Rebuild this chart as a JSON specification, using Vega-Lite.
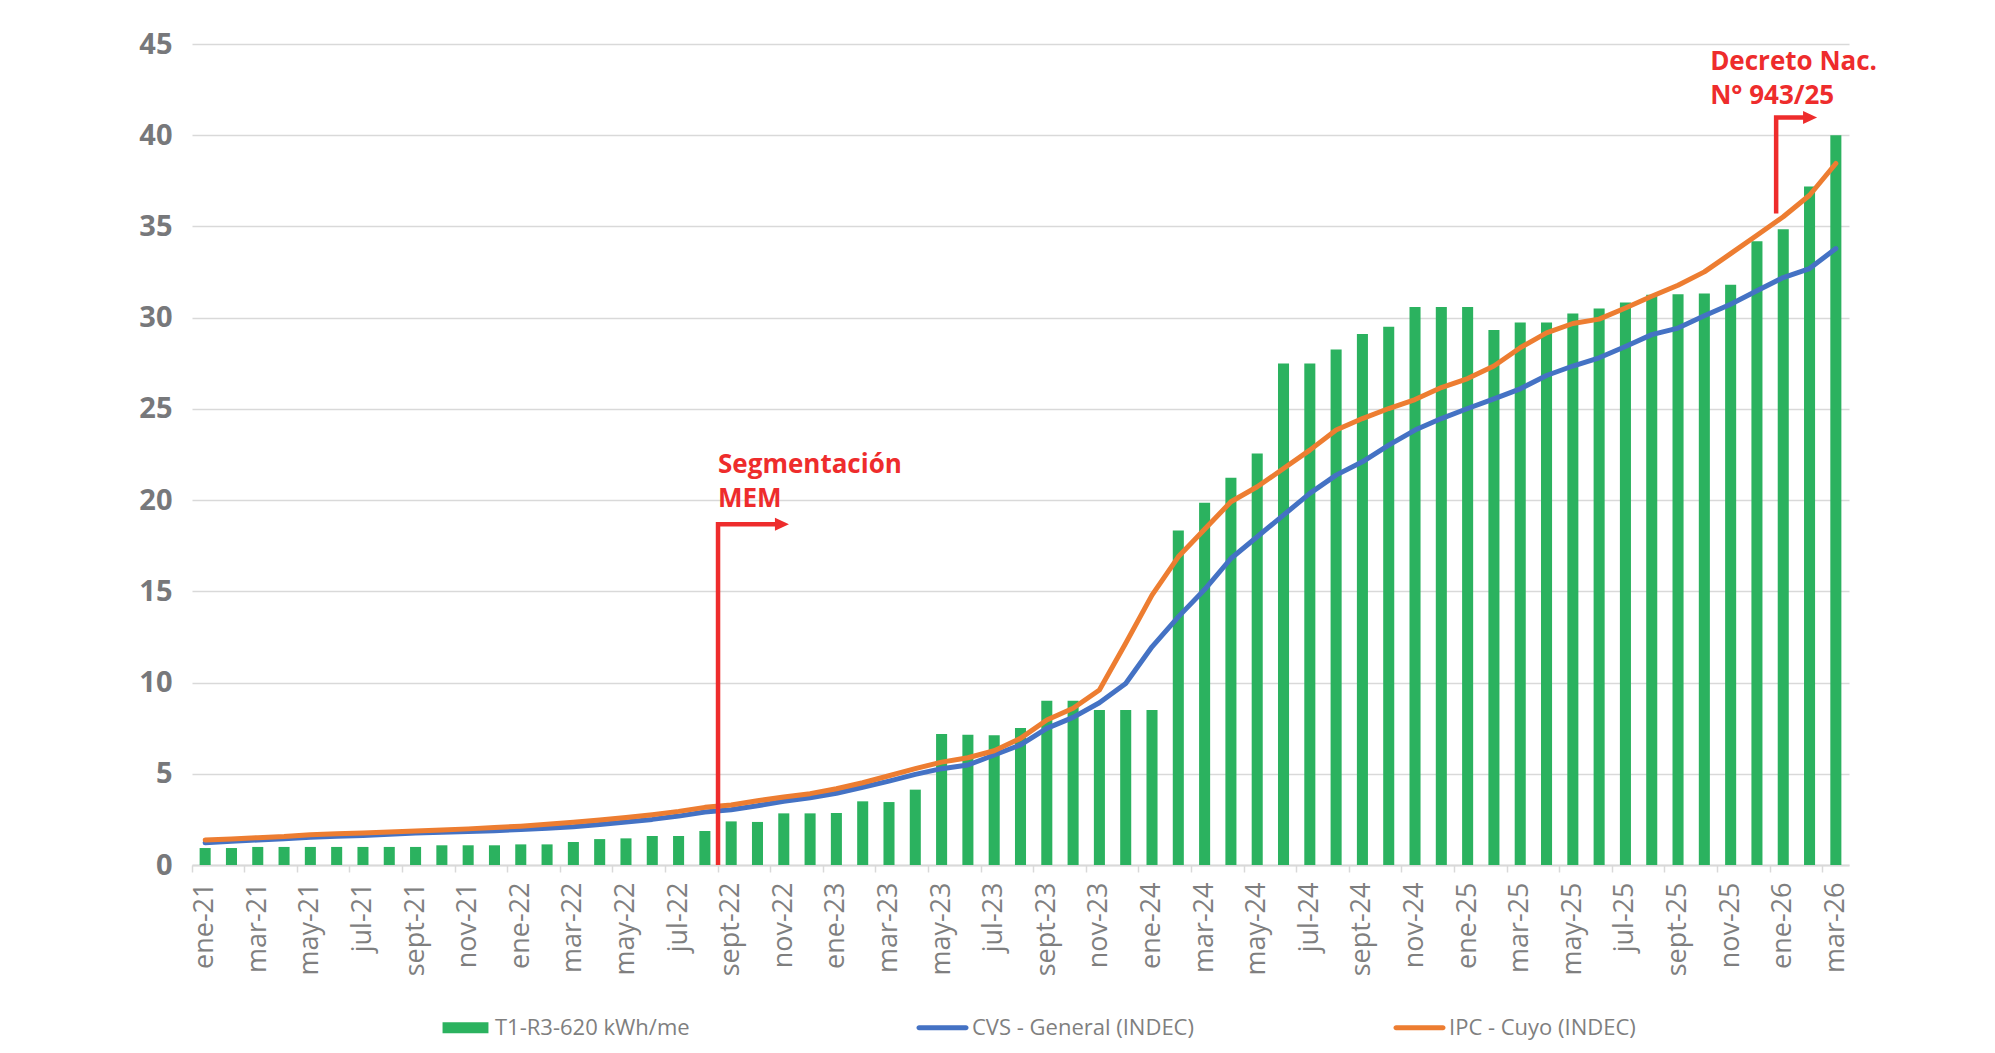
{
  "$schema": "https://vega.github.io/schema/vega-lite/v6.json",
  "width": 1657,
  "height": 821,
  "autosize": {"type": "none"},
  "padding": {"left": 192, "top": 44, "right": 146, "bottom": 188},
  "background": "white",
  "config": {"view": {"stroke": null}, "font": "Open Sans"},
  "datasets": {
    "main": [
      {"m": "ene-21", "t1": 0.93, "cvs": 1.22, "ipc": 1.37},
      {"m": "feb-21", "t1": 0.93, "cvs": 1.30, "ipc": 1.43},
      {"m": "mar-21", "t1": 0.99, "cvs": 1.37, "ipc": 1.50},
      {"m": "abr-21", "t1": 0.99, "cvs": 1.44, "ipc": 1.56},
      {"m": "may-21", "t1": 0.99, "cvs": 1.52, "ipc": 1.66},
      {"m": "jun-21", "t1": 0.99, "cvs": 1.57, "ipc": 1.71},
      {"m": "jul-21", "t1": 0.99, "cvs": 1.62, "ipc": 1.76},
      {"m": "ago-21", "t1": 0.99, "cvs": 1.68, "ipc": 1.81},
      {"m": "sept-21", "t1": 0.99, "cvs": 1.75, "ipc": 1.87},
      {"m": "oct-21", "t1": 1.08, "cvs": 1.80, "ipc": 1.92},
      {"m": "nov-21", "t1": 1.08, "cvs": 1.84, "ipc": 1.98},
      {"m": "dic-21", "t1": 1.08, "cvs": 1.88, "ipc": 2.05},
      {"m": "ene-22", "t1": 1.13, "cvs": 1.95, "ipc": 2.13},
      {"m": "feb-22", "t1": 1.13, "cvs": 2.02, "ipc": 2.23},
      {"m": "mar-22", "t1": 1.26, "cvs": 2.10, "ipc": 2.34},
      {"m": "abr-22", "t1": 1.42, "cvs": 2.22, "ipc": 2.47},
      {"m": "may-22", "t1": 1.46, "cvs": 2.36, "ipc": 2.60},
      {"m": "jun-22", "t1": 1.59, "cvs": 2.50, "ipc": 2.76},
      {"m": "jul-22", "t1": 1.59, "cvs": 2.68, "ipc": 2.94},
      {"m": "ago-22", "t1": 1.86, "cvs": 2.90, "ipc": 3.16},
      {"m": "sept-22", "t1": 2.39, "cvs": 3.03, "ipc": 3.29},
      {"m": "oct-22", "t1": 2.36, "cvs": 3.25, "ipc": 3.52},
      {"m": "nov-22", "t1": 2.83, "cvs": 3.49, "ipc": 3.73},
      {"m": "dic-22", "t1": 2.83, "cvs": 3.69, "ipc": 3.91},
      {"m": "ene-23", "t1": 2.85, "cvs": 3.93, "ipc": 4.18},
      {"m": "feb-23", "t1": 3.49, "cvs": 4.26, "ipc": 4.51},
      {"m": "mar-23", "t1": 3.45, "cvs": 4.60, "ipc": 4.89},
      {"m": "abr-23", "t1": 4.13, "cvs": 4.97, "ipc": 5.28},
      {"m": "may-23", "t1": 7.18, "cvs": 5.28, "ipc": 5.64},
      {"m": "jun-23", "t1": 7.14, "cvs": 5.48, "ipc": 5.88},
      {"m": "jul-23", "t1": 7.11, "cvs": 6.03, "ipc": 6.26},
      {"m": "ago-23", "t1": 7.51, "cvs": 6.58, "ipc": 6.94},
      {"m": "sept-23", "t1": 9.00, "cvs": 7.49, "ipc": 7.95},
      {"m": "oct-23", "t1": 9.00, "cvs": 8.09, "ipc": 8.59},
      {"m": "nov-23", "t1": 8.49, "cvs": 8.89, "ipc": 9.59},
      {"m": "dic-23", "t1": 8.49, "cvs": 9.95, "ipc": 12.15},
      {"m": "ene-24", "t1": 8.49, "cvs": 11.96, "ipc": 14.79},
      {"m": "feb-24", "t1": 18.34, "cvs": 13.60, "ipc": 16.89},
      {"m": "mar-24", "t1": 19.85, "cvs": 15.10, "ipc": 18.40},
      {"m": "abr-24", "t1": 21.22, "cvs": 16.80, "ipc": 19.91},
      {"m": "may-24", "t1": 22.55, "cvs": 17.99, "ipc": 20.73},
      {"m": "jun-24", "t1": 27.49, "cvs": 19.18, "ipc": 21.73},
      {"m": "jul-24", "t1": 27.49, "cvs": 20.37, "ipc": 22.74},
      {"m": "ago-24", "t1": 28.26, "cvs": 21.37, "ipc": 23.84},
      {"m": "sept-24", "t1": 29.10, "cvs": 22.10, "ipc": 24.47},
      {"m": "oct-24", "t1": 29.50, "cvs": 23.01, "ipc": 25.02},
      {"m": "nov-24", "t1": 30.59, "cvs": 23.84, "ipc": 25.51},
      {"m": "dic-24", "t1": 30.59, "cvs": 24.47, "ipc": 26.17},
      {"m": "ene-25", "t1": 30.59, "cvs": 25.02, "ipc": 26.66},
      {"m": "feb-25", "t1": 29.32, "cvs": 25.55, "ipc": 27.35},
      {"m": "mar-25", "t1": 29.73, "cvs": 26.10, "ipc": 28.35},
      {"m": "abr-25", "t1": 29.73, "cvs": 26.83, "ipc": 29.17},
      {"m": "may-25", "t1": 30.23, "cvs": 27.35, "ipc": 29.68},
      {"m": "jun-25", "t1": 30.50, "cvs": 27.80, "ipc": 29.92},
      {"m": "jul-25", "t1": 30.83, "cvs": 28.42, "ipc": 30.53},
      {"m": "ago-25", "t1": 31.25, "cvs": 29.07, "ipc": 31.17},
      {"m": "sept-25", "t1": 31.28, "cvs": 29.43, "ipc": 31.78},
      {"m": "oct-25", "t1": 31.32, "cvs": 30.10, "ipc": 32.51},
      {"m": "nov-25", "t1": 31.81, "cvs": 30.74, "ipc": 33.51},
      {"m": "dic-25", "t1": 34.19, "cvs": 31.47, "ipc": 34.52},
      {"m": "ene-26", "t1": 34.85, "cvs": 32.20, "ipc": 35.53},
      {"m": "feb-26", "t1": 37.19, "cvs": 32.69, "ipc": 36.71},
      {"m": "mar-26", "t1": 40.00, "cvs": 33.79, "ipc": 38.45}
    ],
    "series": [
      {"serie": "T1-R3-620 kWh/me"},
      {"serie": "CVS - General (INDEC)"},
      {"serie": "IPC - Cuyo (INDEC)"}
    ],
    "arrows": [
      {"a": "seg", "o": 1, "x": 20.0, "y": 0},
      {"a": "seg", "o": 2, "x": 20.0, "y": 18.68},
      {"a": "seg", "o": 3, "x": 22.3, "y": 18.68},
      {"a": "dec", "o": 1, "x": 60.23, "y": 35.71},
      {"a": "dec", "o": 2, "x": 60.23, "y": 40.97},
      {"a": "dec", "o": 3, "x": 61.4, "y": 40.97}
    ],
    "heads": [
      {"x": 22.43, "y": 18.68},
      {"x": 61.52, "y": 40.97}
    ],
    "notes": [
      {"x": 20.0, "y": 21.47, "t": "Segmentación"},
      {"x": 20.0, "y": 19.6, "t": "MEM"},
      {"x": 57.72, "y": 43.55, "t": "Decreto Nac."},
      {"x": 57.72, "y": 41.7, "t": "N° 943/25"}
    ]
  },
  "layer": [
    {
      "data": {"name": "main"},
      "layer": [
        {
          "mark": {"type": "bar", "color": "#2bb25f", "width": {"band": 0.42}},
          "encoding": {
            "x": {
              "field": "m", "type": "nominal", "sort": null, "title": null,
              "scale": {"type": "band", "paddingInner": 0, "paddingOuter": 0},
              "axis": {
                "values": ["ene-21","mar-21","may-21","jul-21","sept-21","nov-21","ene-22","mar-22","may-22","jul-22","sept-22","nov-22","ene-23","mar-23","may-23","jul-23","sept-23","nov-23","ene-24","mar-24","may-24","jul-24","sept-24","nov-24","ene-25","mar-25","may-25","jul-25","sept-25","nov-25","ene-26","mar-26"],
                "bandPosition": 0,
                "labelOffset": 0,
                "labelAngle": -90,
                "labelFont": "Open Sans",
                "labelFontSize": 27,
                "labelColor": "#7f7f7f",
                "labelPadding": 10,
                "labelOverlap": false,
                "tickColor": "#d9d9d9",
                "tickSize": 7,
                "tickWidth": 1.5,
                "domainColor": "#d9d9d9",
                "domainWidth": 2,
                "grid": false
              }
            },
            "y": {
              "field": "t1", "type": "quantitative", "title": null,
              "scale": {"domain": [0, 45], "nice": false},
              "axis": {
                "values": [0, 5, 10, 15, 20, 25, 30, 35, 40, 45],
                "grid": true,
                "gridColor": "#d9d9d9",
                "gridWidth": 1.5,
                "domain": false,
                "ticks": false,
                "labelFont": "Open Sans",
                "labelFontSize": 29,
                "labelFontWeight": "bold",
                "labelColor": "#77787b",
                "labelPadding": 20
              }
            }
          }
        },
        {
          "mark": {"type": "line", "color": "#4472c4", "strokeWidth": 5, "strokeCap": "round", "strokeJoin": "round"},
          "encoding": {
            "x": {"field": "m", "type": "nominal", "sort": null, "title": null},
            "y": {"field": "cvs", "type": "quantitative", "title": null}
          }
        },
        {
          "mark": {"type": "line", "color": "#ed7d31", "strokeWidth": 5, "strokeCap": "round", "strokeJoin": "round"},
          "encoding": {
            "x": {"field": "m", "type": "nominal", "sort": null, "title": null},
            "y": {"field": "ipc", "type": "quantitative", "title": null}
          }
        }
      ]
    },
    {
      "layer": [
        {
          "data": {"name": "series"},
          "mark": {"type": "point", "filled": true, "opacity": 0},
          "encoding": {
            "color": {
              "field": "serie", "type": "nominal",
              "scale": {"domain": ["T1-R3-620 kWh/me", "CVS - General (INDEC)", "IPC - Cuyo (INDEC)"], "range": ["#2bb25f", "#4472c4", "#ed7d31"]},
              "legend": {"title": null, "orient": "none", "legendX": 248, "legendY": 958, "direction": "horizontal", "columns": 3, "gridAlign": "all", "columnPadding": 199, "symbolSize": 2601, "symbolOpacity": 1, "symbolStrokeWidth": 0, "labelFont": "Open Sans", "labelFontSize": 22, "labelColor": "#7f7f7f", "labelLimit": 600, "labelOffset": 4, "padding": 0}
            },
            "shape": {
              "field": "serie", "type": "nominal",
              "scale": {"domain": ["T1-R3-620 kWh/me", "CVS - General (INDEC)", "IPC - Cuyo (INDEC)"], "range": ["M-0.9,-0.22H0.9V0.22H-0.9Z", "M-0.92,-0.1H0.92A0.1,0.1,0,0,1,0.92,0.1H-0.92A0.1,0.1,0,0,1,-0.92,-0.1Z", "M-0.92,-0.1H0.92A0.1,0.1,0,0,1,0.92,0.1H-0.92A0.1,0.1,0,0,1,-0.92,-0.1Z"]},
              "legend": {"title": null, "orient": "none", "legendX": 248, "legendY": 958, "direction": "horizontal", "columns": 3, "gridAlign": "all", "columnPadding": 199, "symbolSize": 2601, "symbolOpacity": 1, "symbolStrokeWidth": 0, "labelFont": "Open Sans", "labelFontSize": 22, "labelColor": "#7f7f7f", "labelLimit": 600, "labelOffset": 4, "padding": 0}
            }
          }
        },
        {
          "data": {"name": "arrows"},
          "mark": {"type": "line", "color": "#ee2c2c", "strokeWidth": 4.5, "strokeJoin": "miter", "strokeCap": "butt"},
          "encoding": {
            "x": {"field": "x", "type": "quantitative", "scale": {"domain": [0, 63], "nice": false, "zero": false}, "axis": null},
            "y": {"field": "y", "type": "quantitative", "title": null},
            "detail": {"field": "a"},
            "order": {"field": "o"}
          }
        },
        {
          "data": {"name": "heads"},
          "mark": {"type": "point", "shape": "M-1,-0.93L1,0L-1,0.93Z", "filled": true, "color": "#ee2c2c", "opacity": 1, "size": 196},
          "encoding": {
            "x": {"field": "x", "type": "quantitative", "scale": {"domain": [0, 63], "nice": false, "zero": false}, "axis": null},
            "y": {"field": "y", "type": "quantitative", "title": null}
          }
        },
        {
          "data": {"name": "notes"},
          "mark": {"type": "text", "align": "left", "baseline": "alphabetic", "font": "Open Sans", "fontWeight": "bold", "fontSize": 26, "color": "#ee2c2c"},
          "encoding": {
            "x": {"field": "x", "type": "quantitative", "scale": {"domain": [0, 63], "nice": false, "zero": false}, "axis": null},
            "y": {"field": "y", "type": "quantitative", "title": null},
            "text": {"field": "t"}
          }
        }
      ]
    }
  ],
  "resolve": {"scale": {"x": "independent"}, "axis": {"x": "independent"}}
}
